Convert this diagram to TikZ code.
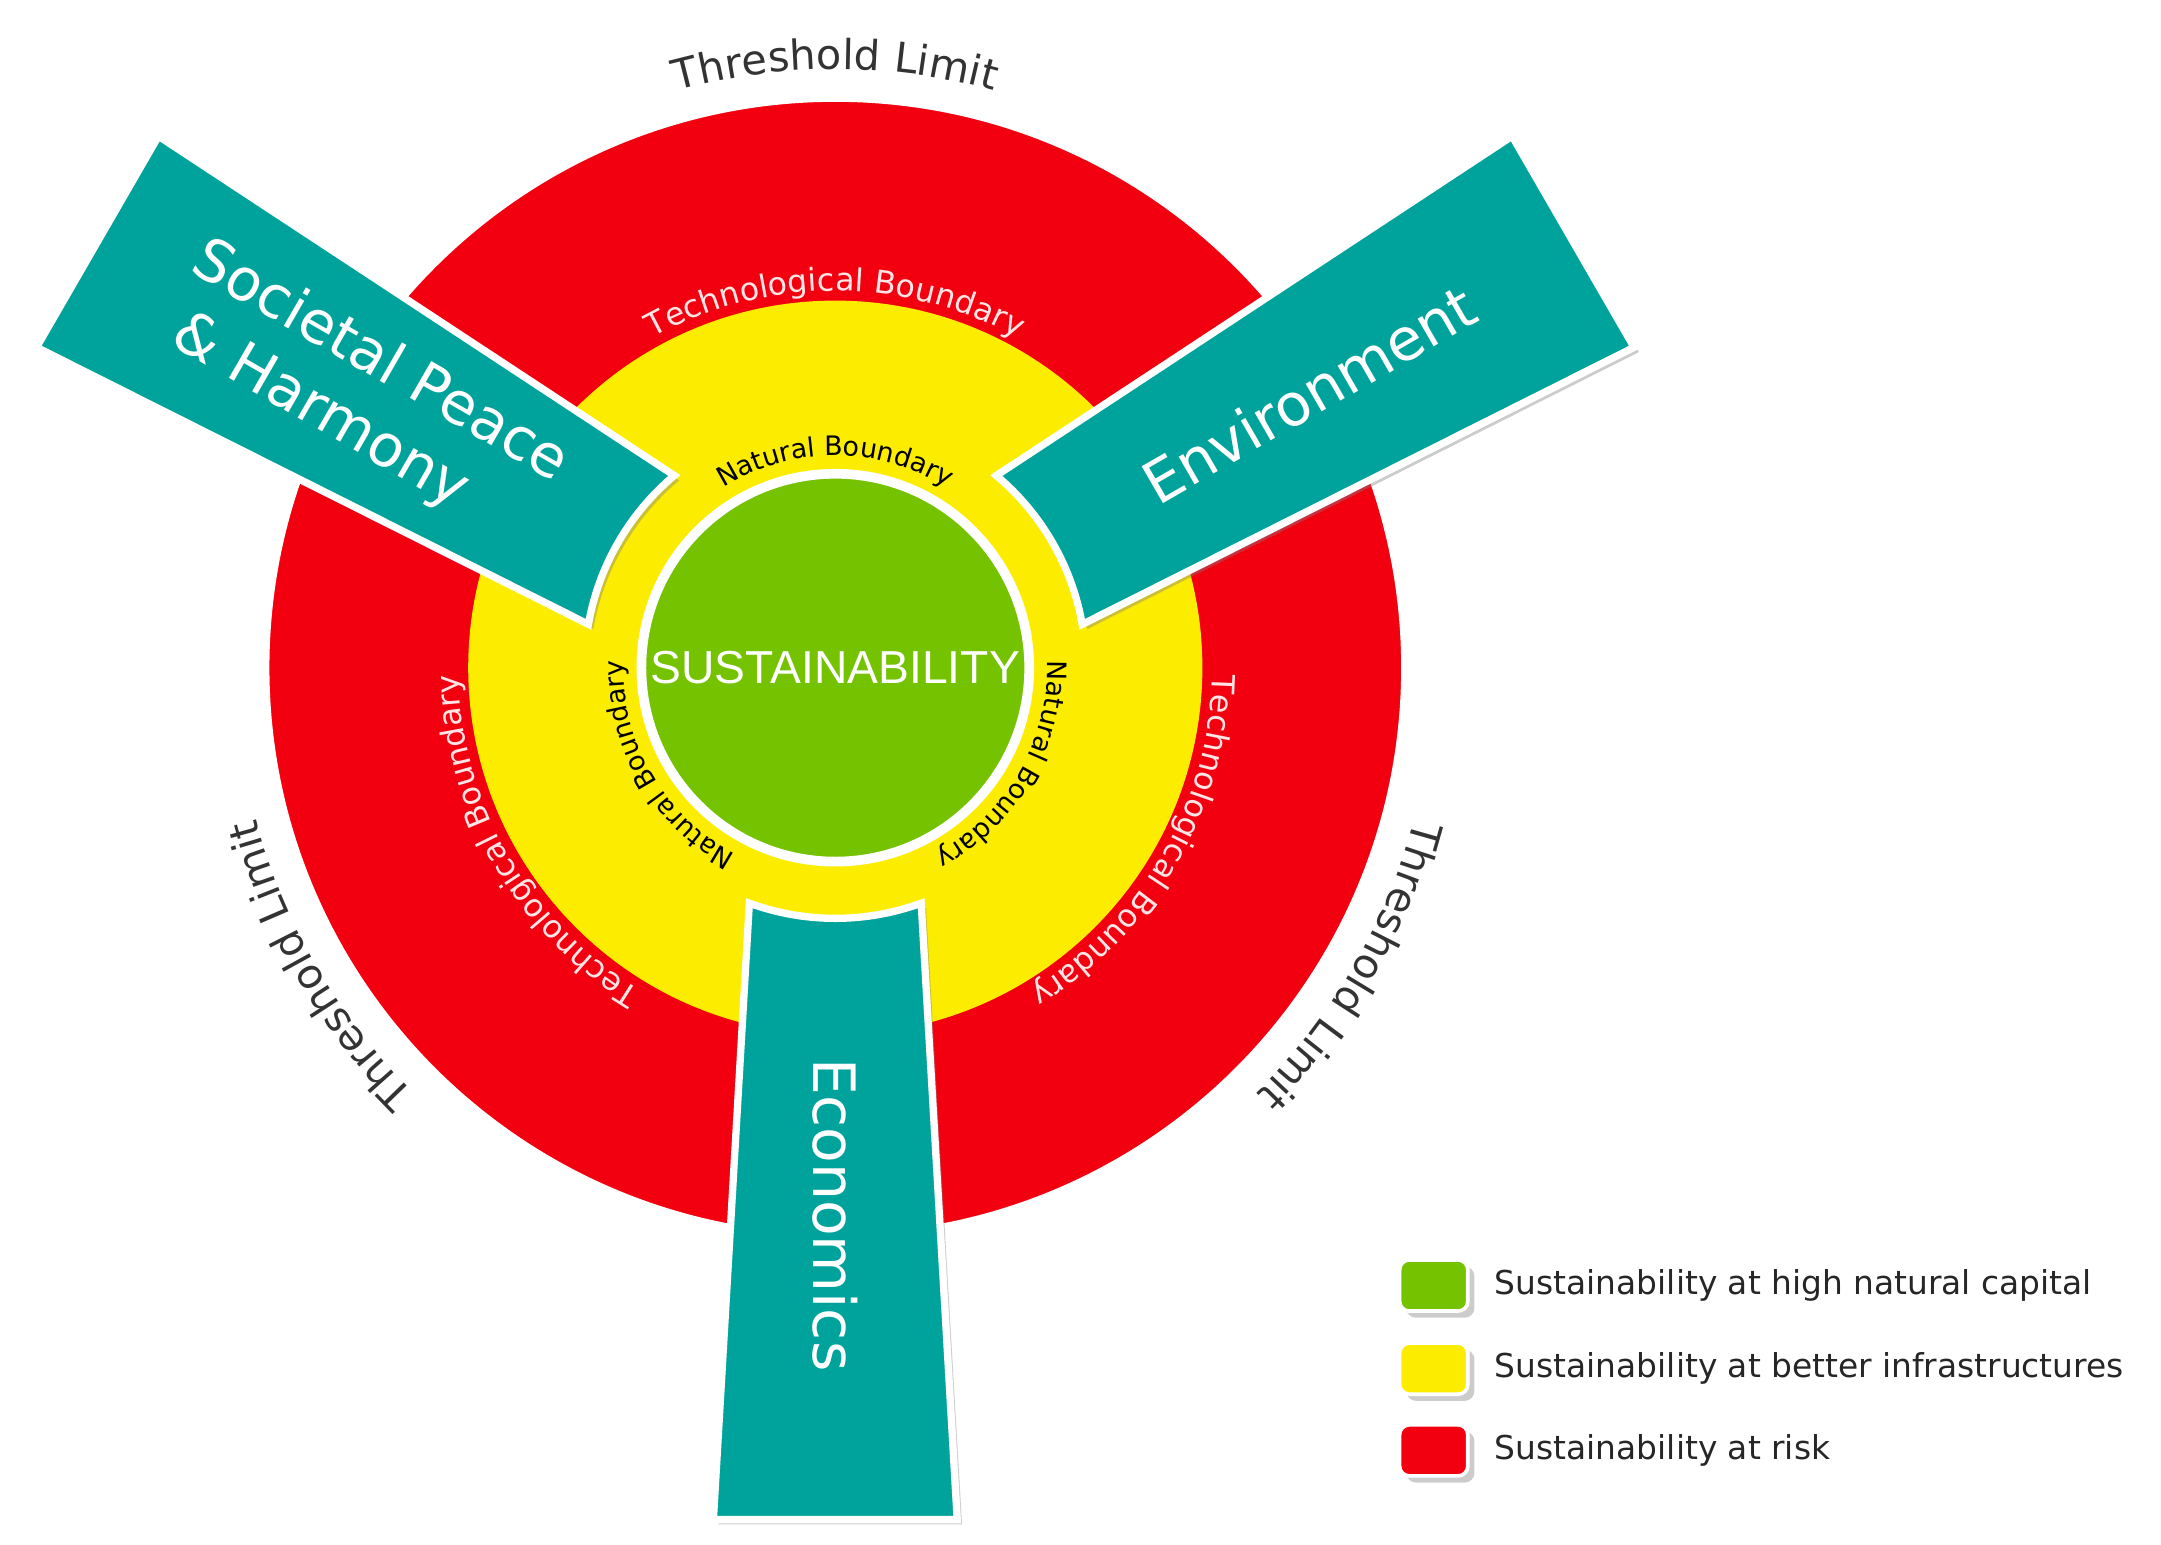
\documentclass[tikz,border=0pt]{standalone}
\usepackage{fontspec}
\setmainfont{DejaVu Sans}
\newfontfamily\arialf{Liberation Sans}
\usetikzlibrary{shadows,decorations.text}
\definecolor{cred}{HTML}{F2000F}
\definecolor{cyel}{HTML}{FCEC00}
\definecolor{cgrn}{HTML}{74C200}
\definecolor{cteal}{HTML}{00A39B}
\tikzset{
  ring/.style={line width=4pt, draw=white, drop shadow={opacity=0.35, shadow xshift=1pt, shadow yshift=-1pt}},
  bar/.style={fill=cteal, draw=white, line width=3pt, line join=miter, drop shadow={opacity=0.4, shadow xshift=2pt, shadow yshift=-2pt}},
  bartext/.style={text=white, font=\fontsize{24}{30}\selectfont, transform shape},
  leg/.style={rounded corners=4pt, draw=white, line width=1.5pt, minimum width=28pt, minimum height=21pt, drop shadow={opacity=0.4}},
  legtext/.style={anchor=west, font=\fontsize{13.5}{15}\selectfont, text=black!85}
}
\newcommand{\arctext}[5]{% angle, radius, span, format, text
  \path[decorate, decoration={text along path, text align=center, text={|#4|#5}}]
    ({#1+#3}:#2) arc[start angle={#1+#3}, end angle={#1-#3}, radius=#2];}
\begin{document}
\begin{tikzpicture}[x=0.02cm,y=0.02cm]
\useasboundingbox[fill=white] (-603,-633) rectangle (957,482);
% circles
\fill[cred, ring] (0,0) coordinate (c) circle[radius=412];
\fill[cyel] (c) circle[radius=265];
\fill[cgrn, ring] (c) circle[radius=140];
% boundary texts
\foreach \a in {90,-30,-150}{
  \arctext{\a}{432}{40}{\fontsize{17}{17}\selectfont\color{black!80}}{Threshold Limit}
  \arctext{\a}{272}{45}{\fontsize{13}{13}\selectfont\color{white!90!red}}{Technological Boundary}
  \arctext{\a}{153}{55}{\fontsize{11}{11}\selectfont\color{black}}{Natural Boundary}
}
\node[text=white, font=\arialf\fontsize{19}{22}\selectfont] (sus) at (0,0) {SUSTAINABILITY};
% bars
\foreach \ang/\nm in {-90/eco,30/env,150/soc}{
  \begin{scope}[rotate=\ang]
    \path[bar] (615,88) -- (170,62) arc[start angle=20.04, end angle=-20.04, radius=181] -- (615,-88) -- cycle;
    \coordinate (\nm) at (395,0);
  \end{scope}
}
\node[bartext, rotate=-90] (ecot) at (eco) {Economics};
\node[bartext, rotate=30] (envt) at (env) {Environment};
\node[bartext, rotate=-30, align=left] (soct) at (soc) {Societal Peace\\\,\,\& Harmony};
% legend
\node[leg, fill=cgrn] (l1) at (432,-446) {};
\node[leg, fill=cyel] (l2) at (432,-506) {};
\node[leg, fill=cred] (l3) at (432,-565) {};
\node[legtext] (t1) at (470,-446) {Sustainability at high natural capital};
\node[legtext] (t2) at (470,-506) {Sustainability at better infrastructures};
\node[legtext] (t3) at (470,-565) {Sustainability at risk};
\end{tikzpicture}
\end{document}
